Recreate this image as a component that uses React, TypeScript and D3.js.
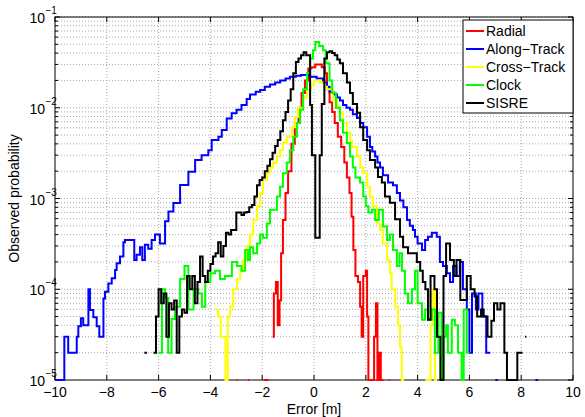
import React from "react";
import * as d3 from "d3";

// histogram bins: [left edge in m, observed probability]; 0 = empty bin (line breaks)
const radial: [number, number][] = [
  [-3.0, 1e-5], [-2.95, 0], [-2.55, 1e-5], [-2.5, 0], [-1.95, 1e-5], [-1.75, 0],
  [-1.6, 3e-5], [-1.55, 9e-5], [-1.47, 1.2e-4], [-1.4, 4e-5], [-1.33, 7.5e-5], [-1.27, 2.5e-4],
  [-1.2, 5.8e-4], [-1.1, 1.15e-3], [-1.0, 2e-3], [-0.87, 4e-3], [-0.74, 6.8e-3], [-0.6, 1e-2],
  [-0.48, 1.45e-2], [-0.35, 2e-2], [-0.22, 2.7e-2], [-0.1, 2.8e-2], [0.05, 3e-2], [0.3, 2.8e-2],
  [0.42, 2.4e-2], [0.5, 1.6e-2], [0.6, 1.15e-2], [0.7, 9e-3], [0.8, 6.8e-3], [0.92, 4.8e-3],
  [1.05, 3.7e-3], [1.17, 2.5e-3], [1.27, 1.7e-3], [1.37, 1.15e-3], [1.45, 6.3e-4], [1.52, 2.7e-4],
  [1.6, 1.4e-4], [1.7, 1.2e-4], [1.78, 6.4e-5], [1.84, 3e-5], [1.9, 1.4e-4], [2.0, 1.6e-4],
  [2.05, 5e-5], [2.1, 1e-5], [2.32, 3e-5], [2.39, 7e-5], [2.45, 1e-5], [2.51, 2e-5],
  [2.58, 1e-5], [2.68, 0], [2.88, 1e-5], [2.93, 0],
];

const alongTrack: [number, number][] = [
  [-10.0, 1e-5], [-9.64, 3e-5], [-9.49, 2e-5], [-9.16, 3e-5], [-9.1, 3.9e-5], [-9.0, 4.8e-5],
  [-8.91, 4e-5], [-8.71, 1e-4], [-8.65, 5.9e-5], [-8.52, 4.9e-5], [-8.39, 3.9e-5], [-8.29, 3e-5],
  [-8.13, 7.9e-5], [-8.07, 9.4e-5], [-7.94, 1.16e-4], [-7.81, 1.32e-4], [-7.68, 1.63e-4],
  [-7.62, 1.93e-4], [-7.49, 2.29e-4], [-7.36, 3.3e-4], [-7.3, 3.5e-4], [-6.94, 2.1e-4],
  [-6.85, 2.4e-4], [-6.72, 2.9e-4], [-6.63, 2.1e-4], [-6.53, 3.1e-4], [-6.4, 2.8e-4],
  [-6.27, 3.5e-4], [-6.14, 4e-4], [-5.95, 3.2e-4], [-5.82, 3.2e-4], [-5.75, 5.6e-4],
  [-5.62, 7.2e-4], [-5.43, 8.9e-4], [-5.17, 1.41e-3], [-4.85, 1.97e-3], [-4.59, 2.65e-3],
  [-4.34, 3e-3], [-4.08, 3.4e-3], [-3.95, 4.4e-3], [-3.69, 4.8e-3], [-3.56, 5.7e-3],
  [-3.37, 7.6e-3], [-3.18, 8.7e-3], [-2.99, 9.5e-3], [-2.8, 1.07e-2], [-2.6, 1.25e-2],
  [-2.47, 1.4e-2], [-2.25, 1.5e-2], [-2.08, 1.57e-2], [-1.9, 1.7e-2], [-1.7, 1.8e-2],
  [-1.5, 1.9e-2], [-1.31, 2e-2], [-1.1, 2.1e-2], [-0.93, 2.2e-2], [-0.7, 2.25e-2],
  [-0.5, 2.3e-2], [-0.3, 2.3e-2], [-0.15, 2.2e-2], [0.1, 2.1e-2], [0.35, 1.9e-2],
  [0.5, 1.7e-2], [0.6, 1.5e-2], [0.75, 1.4e-2], [0.89, 1.3e-2], [1.0, 1.2e-2], [1.12, 1.07e-2],
  [1.25, 1.0e-2], [1.39, 9.5e-3], [1.5, 8.5e-3], [1.66, 7.7e-3], [1.78, 6.8e-3], [1.9, 6.1e-3],
  [2.05, 4.8e-3], [2.16, 3.7e-3], [2.25, 3.3e-3], [2.36, 2.9e-3], [2.45, 2.5e-3], [2.55, 2.2e-3],
  [2.66, 1.8e-3], [2.86, 1.5e-3], [3.05, 1.4e-3], [3.2, 1.15e-3], [3.32, 9.5e-4], [3.45, 8e-4],
  [3.59, 5.8e-4], [3.7, 5e-4], [3.82, 4.5e-4], [3.9, 3.8e-4], [4.0, 3.2e-4], [4.17, 2.7e-4],
  [4.29, 3.5e-4], [4.4, 3.8e-4], [4.55, 4.2e-4], [4.74, 3.8e-4], [4.86, 2e-4], [4.98, 1.8e-4],
  [5.13, 1.5e-4], [5.25, 1.2e-4], [5.37, 1.8e-4], [5.5, 1.4e-4], [5.63, 2e-4], [5.75, 1e-4],
  [5.9, 6e-5], [6.0, 2e-5], [6.1, 9e-5], [6.25, 6e-5], [6.35, 9e-5], [6.5, 5e-5], [6.65, 2e-5],
  [6.8, 0], [7.0, 1e-5], [7.1, 0], [8.55, 1e-5], [8.65, 0],
];

const crossTrack: [number, number][] = [
  [-3.8, 6e-5], [-3.7, 5e-5], [-3.6, 3e-5], [-3.5, 3e-5], [-3.42, 1e-5], [-3.33, 5e-5],
  [-3.24, 6.4e-5], [-3.12, 1e-4], [-2.97, 1.3e-4], [-2.85, 1.6e-4], [-2.74, 2.1e-4], [-2.6, 3e-4],
  [-2.47, 4e-4], [-2.35, 5.8e-4], [-2.2, 8.2e-4], [-2.08, 1.15e-3], [-1.97, 1.6e-3],
  [-1.82, 1.9e-3], [-1.7, 2.2e-3], [-1.58, 2.5e-3], [-1.43, 2.9e-3], [-1.31, 3.4e-3],
  [-1.2, 4.1e-3], [-1.05, 4.8e-3], [-0.85, 6.1e-3], [-0.73, 7.9e-3], [-0.62, 1e-2],
  [-0.42, 1.3e-2], [-0.27, 1.57e-2], [-0.12, 1.8e-2], [0.0, 2e-2], [0.25, 1.9e-2], [0.4, 1.7e-2],
  [0.5, 1.6e-2], [0.73, 1.2e-2], [0.9, 1e-2], [1.0, 8.8e-3], [1.12, 6.8e-3], [1.27, 5.3e-3],
  [1.4, 4.3e-3], [1.47, 3.7e-3], [1.66, 2.9e-3], [1.78, 2.2e-3], [1.9, 1.9e-3], [2.05, 1.35e-3],
  [2.16, 1.05e-3], [2.28, 8.2e-4], [2.43, 5.3e-4], [2.55, 4.5e-4], [2.66, 3.2e-4], [2.82, 2.1e-4],
  [2.93, 1.5e-4], [3.0, 1e-4], [3.13, 6.4e-5], [3.24, 4e-5], [3.32, 2.3e-5], [3.39, 1e-5],
  [3.48, 0], [4.3, 1e-5], [4.5, 4e-5], [4.58, 1e-4], [4.67, 1e-5], [4.75, 0],
];

const clock: [number, number][] = [
  [-6.0, 2e-5], [-5.87, 1e-4], [-5.75, 8e-5], [-5.63, 2e-5], [-5.5, 4.7e-5], [-5.37, 6.4e-5],
  [-5.17, 1.3e-4], [-5.0, 1.8e-4], [-4.85, 6e-5], [-4.65, 1e-4], [-4.47, 9e-5], [-4.33, 6.4e-5],
  [-4.2, 1.2e-4], [-4.0, 1.5e-4], [-3.82, 1.6e-4], [-3.63, 1.3e-4], [-3.44, 1.4e-4],
  [-3.17, 2e-4], [-2.97, 1.8e-4], [-2.8, 1.6e-4], [-2.66, 2.7e-4], [-2.55, 2.1e-4],
  [-2.47, 2.9e-4], [-2.35, 2.5e-4], [-2.2, 3.2e-4], [-2.08, 4e-4], [-1.97, 3.7e-4],
  [-1.82, 5.3e-4], [-1.7, 7.5e-4], [-1.58, 7.5e-4], [-1.43, 1.05e-3], [-1.31, 1.35e-3],
  [-1.2, 1.9e-3], [-1.05, 2.5e-3], [-0.93, 3.4e-3], [-0.8, 4.8e-3], [-0.66, 6.8e-3],
  [-0.54, 9.5e-3], [-0.42, 1.6e-2], [-0.27, 2.4e-2], [-0.15, 3.5e-2], [-0.04, 4.3e-2],
  [0.05, 5.3e-2], [0.2, 4.8e-2], [0.35, 4.3e-2], [0.45, 3.1e-2], [0.6, 2e-2], [0.7, 1.45e-2],
  [0.85, 1e-2], [1.0, 7.3e-3], [1.12, 5.3e-3], [1.27, 4.1e-3], [1.39, 2.9e-3], [1.5, 2.2e-3],
  [1.6, 1.7e-3], [1.78, 1.5e-3], [1.9, 1.05e-3], [2.0, 8.2e-4], [2.1, 7e-4], [2.24, 7.5e-4],
  [2.36, 5.8e-4], [2.5, 7.5e-4], [2.66, 4.9e-4], [2.82, 3.5e-4], [2.93, 4e-4], [3.05, 2.7e-4],
  [3.2, 1.8e-4], [3.3, 2.5e-4], [3.4, 1.6e-4], [3.51, 9e-5], [3.63, 7e-5], [3.78, 1e-4],
  [3.9, 1.6e-4], [4.0, 7e-5], [4.17, 4.6e-5], [4.29, 6e-5], [4.4, 4.6e-5], [4.55, 6e-5],
  [4.67, 2e-5], [4.8, 5.5e-5], [4.93, 1e-5], [5.0, 3e-5], [5.1, 4e-5], [5.17, 2e-5],
  [5.32, 4.6e-5], [5.44, 4e-5], [5.56, 2e-5], [5.7, 1e-5], [5.78, 6e-5], [5.9, 2e-5], [6.0, 0],
];

const sisre: [number, number][] = [
  [-6.55, 2e-5], [-6.45, 0], [-6.2, 2e-5], [-6.1, 5e-5], [-6.0, 1e-4], [-5.9, 7e-5], [-5.8, 9e-5],
  [-5.7, 3e-5], [-5.6, 7e-5], [-5.5, 6e-5], [-5.4, 7.5e-5], [-5.3, 2e-5], [-5.2, 5e-5],
  [-5.1, 6e-5], [-5.0, 5.5e-5], [-4.9, 1.4e-4], [-4.8, 1e-4], [-4.7, 1.4e-4], [-4.6, 7e-5],
  [-4.5, 1.2e-4], [-4.4, 2.3e-4], [-4.3, 1.4e-4], [-4.2, 1.2e-4], [-4.1, 1.6e-4], [-4.0, 1.9e-4],
  [-3.9, 2.3e-4], [-3.8, 2.5e-4], [-3.7, 3.3e-4], [-3.6, 2.3e-4], [-3.5, 3e-4], [-3.4, 4.2e-4],
  [-3.3, 4e-4], [-3.2, 4.5e-4], [-3.1, 4.5e-4], [-3.0, 7e-4], [-2.9, 7e-4], [-2.8, 6.6e-4],
  [-2.7, 7e-4], [-2.6, 7.1e-4], [-2.5, 8e-4], [-2.4, 8.5e-4], [-2.3, 1.05e-3], [-2.2, 1.4e-3],
  [-2.1, 1.6e-3], [-2.0, 1.7e-3], [-1.9, 2e-3], [-1.8, 2.3e-3], [-1.7, 2.7e-3], [-1.6, 3.2e-3],
  [-1.5, 3.8e-3], [-1.4, 4.4e-3], [-1.3, 5.5e-3], [-1.2, 7.3e-3], [-1.1, 9e-3], [-1.0, 1.2e-2],
  [-0.9, 1.6e-2], [-0.8, 2.4e-2], [-0.7, 3.2e-2], [-0.6, 3.5e-2], [-0.5, 3.8e-2], [-0.4, 4.1e-2],
  [-0.3, 3.8e-2], [-0.15, 1.07e-2], [-0.08, 3e-3], [0.05, 3.7e-4], [0.22, 3e-3], [0.3, 1.1e-2],
  [0.4, 3.5e-2], [0.5, 4.1e-2], [0.6, 4.2e-2], [0.7, 4e-2], [0.8, 3.8e-2], [0.9, 3.4e-2],
  [1.0, 3.1e-2], [1.12, 2.4e-2], [1.27, 1.9e-2], [1.39, 1.45e-2], [1.5, 1.1e-2], [1.66, 8.8e-3],
  [1.78, 6.1e-3], [1.9, 4.4e-3], [2.05, 3.4e-3], [2.16, 2.65e-3], [2.36, 2.2e-3], [2.47, 1.73e-3],
  [2.62, 1.5e-3], [2.74, 1.05e-3], [2.93, 9e-4], [3.13, 5.9e-4], [3.32, 3.8e-4], [3.44, 2.9e-4],
  [3.63, 2.5e-4], [3.82, 2.5e-4], [3.97, 2e-4], [4.1, 1.6e-4], [4.2, 1.2e-4], [4.3, 1e-4],
  [4.4, 4.6e-5], [4.5, 1.4e-4], [4.65, 1e-4], [4.75, 3e-5], [4.88, 1e-5], [5.0, 1.4e-4],
  [5.1, 3.2e-4], [5.25, 2.1e-4], [5.4, 1.4e-4], [5.5, 2.1e-4], [5.65, 7.6e-5], [5.9, 1.4e-4],
  [6.05, 1e-4], [6.2, 8.3e-5], [6.3, 5e-5], [6.45, 6e-5], [6.55, 5e-5], [6.7, 3e-5],
  [6.85, 4.5e-5], [6.95, 7e-5], [7.08, 6e-5], [7.2, 7e-5], [7.35, 2e-5], [7.45, 1e-5],
  [7.85, 2e-5], [8.05, 0], [8.15, 3e-5], [8.2, 0],
];

const seriesNames = ["Radial", "Along\u2212Track", "Cross\u2212Track", "Clock", "SISRE"];
const seriesColors = ["#ff0000", "#0000ff", "#ffff00", "#00ff00", "#000000"];
const seriesData = [radial, alongTrack, crossTrack, clock, sisre];

const xTicks = [-10, -8, -6, -4, -2, 0, 2, 4, 6, 8, 10];
const yExponents = [-5, -4, -3, -2, -1];

const W = 585;
const H = 417;
const left = 55, right = 573, top = 17, bottom = 380;
const font = "'Liberation Sans', Arial, Helvetica, sans-serif";

function stairs(data: [number, number][]) {
  const pts: { x: number; p: number }[] = [];
  data.forEach(([x0, p], i) => {
    const x1 = i < data.length - 1 ? data[i + 1][0] : x0 + 0.1;
    pts.push({ x: x0, p }, { x: x1, p });
  });
  return pts;
}

const fmt = (v: number) => (v < 0 ? "\u2212" + Math.abs(v) : String(v));

export default function App() {
  const x = d3.scaleLinear().domain([-10, 10]).range([left, right]);
  const y = d3.scaleLog().domain([1e-5, 1e-1]).range([bottom, top]);

  const line = d3
    .line<{ x: number; p: number }>()
    .defined((d) => d.p > 0)
    .x((d) => x(d.x))
    .y((d) => y(d.p));

  // minor grid values 2..9 per decade
  const minor: number[] = [];
  for (let e = -5; e < -1; e++) {
    for (let m = 2; m <= 9; m++) minor.push(m * Math.pow(10, e));
  }

  const gridStyle = { stroke: "#a8a8a8", strokeWidth: 1, strokeDasharray: "1,2" };

  const legendX = 463, legendY = 20, legendW = 110, legendH = 93;

  return (
    <svg
      width={W}
      height={H}
      style={{ position: "absolute", left: 0, top: 0, background: "#fff", fontFamily: font }}
    >
      <rect x={0} y={0} width={W} height={H} fill="#fff" />
      {/* grid */}
      {xTicks.slice(1, -1).map((t) => (
        <line key={"gx" + t} x1={x(t)} x2={x(t)} y1={top} y2={bottom} {...gridStyle} />
      ))}
      {yExponents.slice(1).map((e) => (
        <line key={"gy" + e} x1={left} x2={right} y1={y(Math.pow(10, e))} y2={y(Math.pow(10, e))} {...gridStyle} />
      ))}
      {minor.map((v, i) => (
        <line key={"gm" + i} x1={left} x2={right} y1={y(v)} y2={y(v)} {...gridStyle} />
      ))}

      {/* ticks */}
      {xTicks.map((t) => (
        <g key={"tx" + t}>
          <line x1={x(t)} x2={x(t)} y1={bottom} y2={bottom - 5} stroke="#000" />
          <line x1={x(t)} x2={x(t)} y1={top} y2={top + 5} stroke="#000" />
          <text x={x(t)} y={397} textAnchor="middle" fontSize={14}>
            {fmt(t)}
          </text>
        </g>
      ))}
      {yExponents.map((e) => {
        const yy = y(Math.pow(10, e));
        return (
          <g key={"ty" + e}>
            <line x1={left} x2={left + 5} y1={yy} y2={yy} stroke="#000" />
            <line x1={right} x2={right - 5} y1={yy} y2={yy} stroke="#000" />
            <text x={45} y={yy + 6} textAnchor="end" fontSize={14}>
              10
            </text>
            <text x={45.5} y={yy - 3} textAnchor="start" fontSize={10}>
              {fmt(e)}
            </text>
          </g>
        );
      })}
      {minor.map((v, i) => (
        <g key={"tm" + i}>
          <line x1={left} x2={left + 3} y1={y(v)} y2={y(v)} stroke="#000" />
          <line x1={right} x2={right - 3} y1={y(v)} y2={y(v)} stroke="#000" />
        </g>
      ))}

      {/* frame */}
      <rect x={left} y={top} width={right - left} height={bottom - top} fill="none" stroke="#000" strokeWidth={1} />

      {/* series */}
      {seriesData.map((d, i) => (
        <path
          key={seriesNames[i]}
          d={line(stairs(d)) || ""}
          fill="none"
          stroke={seriesColors[i]}
          strokeWidth={2}
          strokeLinejoin="miter"
        />
      ))}

      {/* axis labels */}
      <text x={(left + right) / 2} y={414} textAnchor="middle" fontSize={14}>
        Error [m]
      </text>
      <text
        transform={`translate(19, ${(top + bottom) / 2}) rotate(-90)`}
        textAnchor="middle"
        fontSize={14}
      >
        Observed probability
      </text>

      {/* legend */}
      <rect x={legendX} y={legendY} width={legendW} height={legendH} fill="#fff" stroke="#000" strokeWidth={1} />
      {seriesNames.map((n, i) => {
        const yy = legendY + 11 + i * 18;
        return (
          <g key={"lg" + n}>
            <line x1={legendX + 3} x2={legendX + 21} y1={yy} y2={yy} stroke={seriesColors[i]} strokeWidth={2} />
            <text x={legendX + 23} y={yy + 5} fontSize={14}>
              {n}
            </text>
          </g>
        );
      })}
    </svg>
  );
}
